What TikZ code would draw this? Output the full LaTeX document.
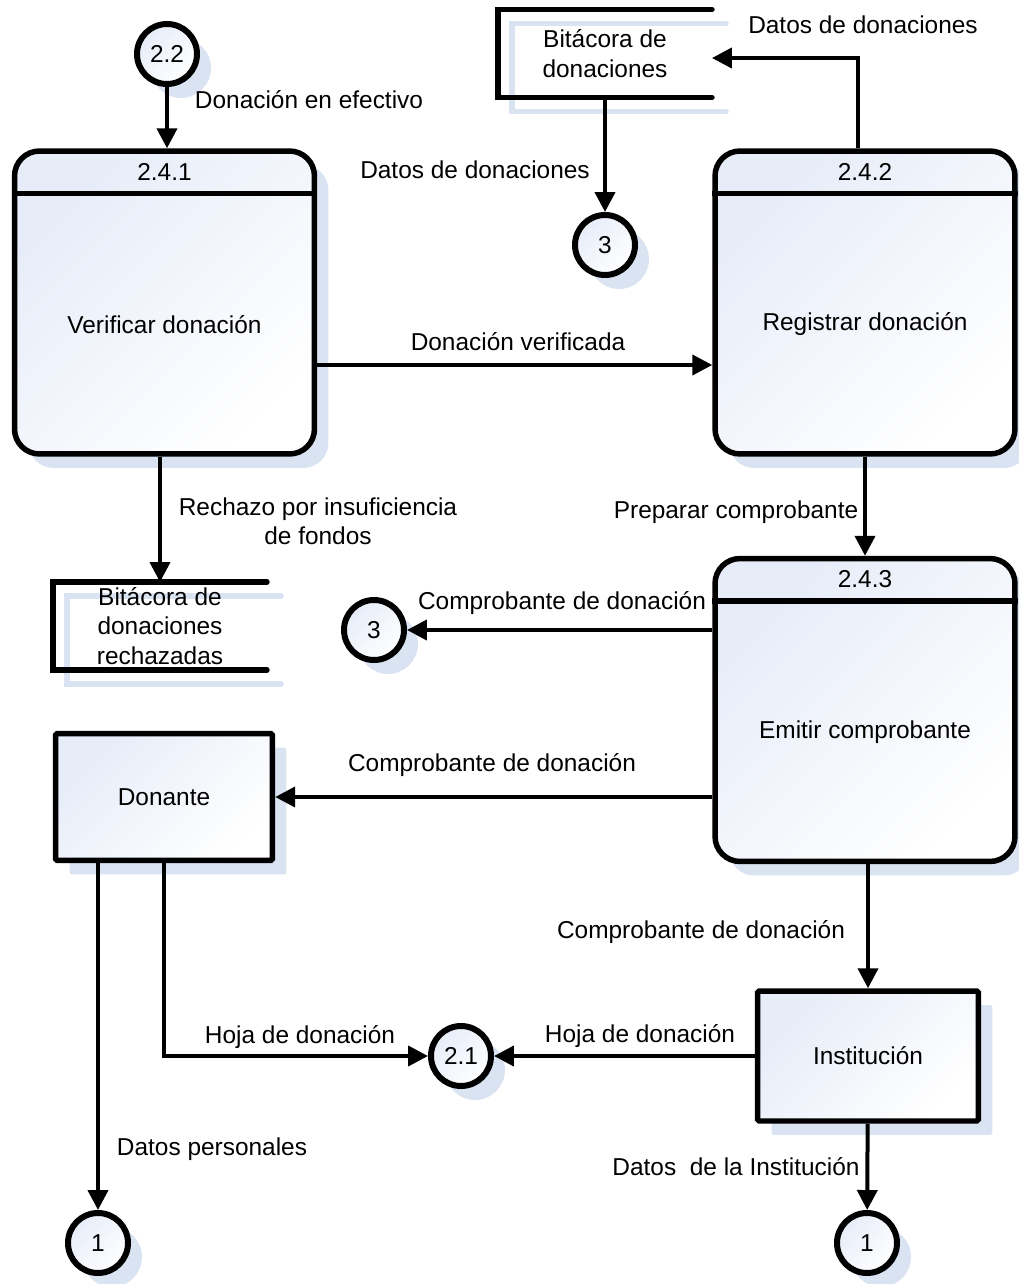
\documentclass[tikz,border=0pt]{standalone}
\usepackage{fontspec}
\setmainfont{Liberation Sans}
\usetikzlibrary{arrows.meta,shadows}
\definecolor{shadowblue}{RGB}{218,227,242}
\definecolor{tintblue}{RGB}{230,236,248}

\begin{document}
\begin{tikzpicture}[x = 0.02cm, y = -0.02cm,
                      font = \fontsize{13.9}{16.7}\selectfont,
                      shaded/.style = {top color = tintblue, bottom color = white, shading angle = 45,
                                       drop shadow = {shadow xshift = 0.28cm, shadow yshift = -0.28cm,
                                                      fill = shadowblue, opacity = 1}},
                      proc/.style = {rectangle, rounded corners = 0.5cm, draw, line width = 0.11cm,
                                     minimum width = 6cm, minimum height = 6.06cm, shaded},
                      ext/.style = {rectangle, rounded corners = 1pt, draw, line width = 0.11cm,
                                    minimum width = 4.34cm, minimum height = 2.54cm, shaded},
                      bubble/.style = {circle, draw, line width = 0.12cm, inner sep = 0pt,
                                       minimum size = 1.2cm, shaded},
                      store/.style = {rectangle, inner sep = 0pt, outer sep = 0pt,
                                      minimum width = 4.28cm, minimum height = 1.76cm},
                      storeline/.style = {line width = 0.11cm, line cap = round},
                      flow/.style = {-{Triangle[length = 0.4cm, width = 0.4cm]}, line width = 0.08cm}]
    \useasboundingbox (0, 0) rectangle (1018, 1284);

    % procesos
    \node [proc] (verif) at (164.5, 302.5){};
    \node [proc] (reg) at (865, 302.5){};
    \node [proc] (emit) at (865, 710){};
    \foreach \p in {verif, reg, emit}
        \draw [line width = 0.11cm] ([yshift = -0.9cm]\p.north west) -- ([yshift = -0.9cm]\p.north east);
    \node (verif-id) at ([yshift = -0.48cm]verif.north){2.4.1};
    \node (verif-txt) at ([yshift = -0.44cm]verif.center){Verificar donación};
    \node (reg-id) at ([yshift = -0.48cm]reg.north){2.4.2};
    \node (reg-txt) at ([yshift = -0.44cm]reg.center){Registrar donación};
    \node (emit-id) at ([yshift = -0.46cm]emit.north){2.4.3};
    \node (emit-txt) at ([yshift = -0.44cm]emit.center){Emitir comprobante};

    % entidades externas
    \node [ext] (don) at (164, 797){Donante};
    \node [ext, minimum width = 4.42cm, minimum height = 2.6cm] (inst) at (868, 1056){Institución};

    % conectores
    \node [bubble] (c22) at (167, 54){2.2};
    \node [bubble] (c3a) at (605, 245){3};
    \node [bubble] (c3b) at (374, 630){3};
    \node [bubble] (c21) at (461, 1056){2.1};
    \node [bubble] (c1a) at (98, 1243){1};
    \node [bubble] (c1b) at (867, 1243){1};

    % almacenes
    \node [store] (bit) at (605, 53.5){};
    \node [store] (rech) at (160, 626){};
    \foreach \s in {bit, rech} {
        \draw [storeline, shadowblue] ([shift = {(14, 14)}]\s.north east) -- ([shift = {(14, 14)}]\s.north west)
              -- ([shift = {(14, 14)}]\s.south west) -- ([shift = {(14, 14)}]\s.south east);
        \draw [storeline] (\s.north east) -- (\s.north west) -- (\s.south west) -- (\s.south east);
    }
    \node [align = center] (bit-txt) at (bit){Bitácora de\\donaciones};
    \node [align = center] (rech-txt) at (rech){Bitácora de\\donaciones\\rechazadas};

    % flujos
    \draw [flow] (c22) -- (c22 |- verif.north);
    \draw [flow] ([xshift = -0.14cm]reg.north) |- ([yshift = -0.09cm]bit.east);
    \draw [flow] (bit.south) -- (c3a);
    \draw [flow] ([yshift = -1.25cm]verif.east) -- ([yshift = -1.25cm]reg.west);
    \draw [flow] (verif.south -| rech.north) -- (rech.north);
    \draw [flow] (reg.south) -- (emit.north);
    \draw [flow] (emit.west |- c3b) -- (c3b);
    \draw [flow] (emit.west |- don) -- (don);
    \draw [flow] (emit.south -| inst.north) -- (inst.north);
    \draw [flow] (don.south -| c1a) -- (c1a);
    \draw [flow] (don.south) |- (c21);
    \draw [flow] (inst) -- (c21);
    \draw [flow] (inst) -- (c1b);

    % etiquetas
    \node (l-efectivo) at (309, 100){Donación en efectivo};
    \node (l-datos1) at (863, 25){Datos de donaciones};
    \node (l-datos2) at (475, 170){Datos de donaciones};
    \node (l-verif) at (518, 342){Donación verificada};
    \node [align = center] (l-rechazo) at (318, 521){Rechazo por insuficiencia\\de fondos};
    \node (l-preparar) at (736, 512){Preparar comprobante};
    \node (l-comp1) at (562, 603){Comprobante de donación};
    \node (l-comp2) at (492, 765){Comprobante de donación};
    \node (l-comp3) at (701, 932){Comprobante de donación};
    \node (l-hoja1) at (300, 1037){Hoja de donación};
    \node (l-hoja2) at (640, 1036){Hoja de donación};
    \node (l-personales) at (212, 1149){Datos personales};
    \node (l-inst) at (736, 1167){Datos\ \ de la Institución};
\end{tikzpicture}
\end{document}
